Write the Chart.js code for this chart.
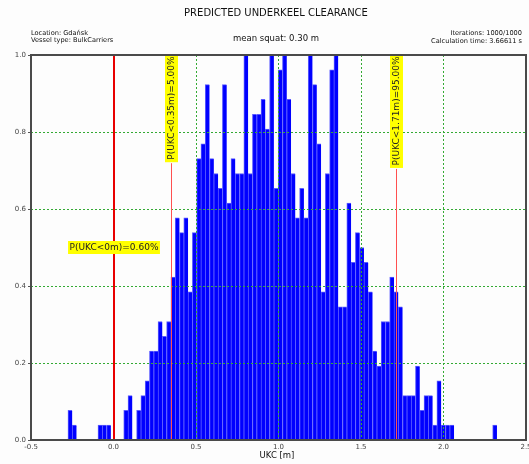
<!DOCTYPE html>
<html>
<head>
<meta charset="utf-8">
<title>Predicted Underkeel Clearance</title>
<script src="https://cdn.jsdelivr.net/npm/chart.js"></script>
<style>
    html, body { margin: 0; padding: 0; background: #fdfdfd; }
    #wrap { width: 529px; height: 464px; }
</style>
</head>
<body>
<div id="wrap"><canvas id="ukcChart" width="529" height="464"></canvas></div>
<script>
// histogram bin centres [m] (bin width 0.026 m)
const binCenters = [
    -0.263, -0.237, -0.211, -0.185, -0.159, -0.133, -0.107, -0.081, -0.055, -0.029,
    -0.003, 0.023, 0.049, 0.075, 0.101, 0.127, 0.153, 0.179, 0.205, 0.231,
    0.257, 0.283, 0.309, 0.335, 0.361, 0.387, 0.413, 0.439, 0.465, 0.491,
    0.517, 0.543, 0.569, 0.595, 0.621, 0.647, 0.673, 0.699, 0.725, 0.751,
    0.777, 0.803, 0.829, 0.855, 0.881, 0.907, 0.933, 0.959, 0.985, 1.011,
    1.037, 1.063, 1.089, 1.115, 1.141, 1.167, 1.193, 1.219, 1.245, 1.271,
    1.297, 1.323, 1.349, 1.375, 1.401, 1.427, 1.453, 1.479, 1.505, 1.531,
    1.557, 1.583, 1.609, 1.635, 1.661, 1.687, 1.713, 1.739, 1.765, 1.791,
    1.817, 1.843, 1.869, 1.895, 1.921, 1.947, 1.973, 1.999, 2.025, 2.051,
    2.077, 2.103, 2.129, 2.155, 2.181, 2.207, 2.233, 2.259, 2.285, 2.311
];
// samples per bin (out of 1000 iterations)
const binCounts = [
    2, 1, 0, 0, 0, 0, 0, 1, 1, 1,
    0, 0, 0, 2, 3, 0, 2, 3, 4, 6,
    6, 8, 7, 8, 11, 15, 14, 15, 10, 14,
    19, 20, 24, 19, 18, 17, 24, 16, 19, 18,
    18, 26, 18, 22, 22, 23, 21, 26, 17, 25,
    26, 23, 18, 15, 17, 15, 26, 24, 20, 10,
    18, 25, 26, 9, 9, 16, 12, 14, 13, 12,
    10, 6, 5, 8, 8, 11, 10, 9, 3, 3,
    3, 5, 2, 3, 3, 1, 4, 1, 1, 1,
    0, 0, 0, 0, 0, 0, 0, 0, 0, 1
];
const maxCount = 26;

const xTickValues = [-0.5, 0.0, 0.5, 1.0, 1.5, 2.0, 2.5];
const yTickValues = [0.0, 0.2, 0.4, 0.6, 0.8, 1.0];

// probability markers
const markerValues = [0, 0.35, 1.71];
const markerLabels = ['P(UKC<0m)=0.60%', 'P(UKC<0.35m)=5.00%', 'P(UKC<1.71m)=95.00%'];

const FONT = '"DejaVu Sans", Verdana, sans-serif';

const ukcPlugin = {
    id: 'ukcDecorations',
    afterDraw(chart) {
        const ctx = chart.ctx;
        const area = chart.chartArea;
        const xs = chart.scales.x;
        const ys = chart.scales.y;
        ctx.save();

        // marker lines + labels
        markerValues.forEach((v, i) => {
            const px = Math.round(xs.getPixelForValue(v));
            ctx.font = '9px ' + FONT;
            const tw = ctx.measureText(markerLabels[i]).width;
            if (i === 0) {
                ctx.strokeStyle = '#e80000';
                ctx.lineWidth = 2;
                ctx.beginPath();
                ctx.moveTo(px, area.top);
                ctx.lineTo(px, area.bottom);
                ctx.stroke();
                const py = ys.getPixelForValue(0.5);
                ctx.fillStyle = '#ffff00';
                ctx.fillRect(px - tw / 2 - 1.5, py - 6.5, tw + 3, 13);
                ctx.fillStyle = '#222';
                ctx.textAlign = 'center';
                ctx.textBaseline = 'middle';
                ctx.fillText(markerLabels[i], px, py);
            } else {
                const boxLen = tw + 5;
                ctx.strokeStyle = '#ff5050';
                ctx.lineWidth = 1;
                ctx.beginPath();
                ctx.moveTo(px + 0.5, area.top + boxLen);
                ctx.lineTo(px + 0.5, area.bottom);
                ctx.stroke();
                ctx.fillStyle = '#ffff00';
                ctx.fillRect(px - 6, area.top - 1, 13, boxLen);
                ctx.translate(px + 0.5, area.top - 1 + boxLen / 2);
                ctx.rotate(-Math.PI / 2);
                ctx.fillStyle = '#222';
                ctx.textAlign = 'center';
                ctx.textBaseline = 'middle';
                ctx.fillText(markerLabels[i], 0, 0);
                ctx.setTransform(1, 0, 0, 1, 0, 0);
            }
        });

        // plot frame
        ctx.strokeStyle = '#4a4a4a';
        ctx.lineWidth = 2;
        ctx.strokeRect(area.left, area.top, area.right - area.left, area.bottom - area.top);

        // header texts
        ctx.fillStyle = '#111';
        ctx.textBaseline = 'middle';
        ctx.textAlign = 'center';
        ctx.font = '10px ' + FONT;
        ctx.fillText('PREDICTED UNDERKEEL CLEARANCE', 276, 13);
        ctx.font = '8.5px ' + FONT;
        ctx.fillText('mean squat: 0.30 m', 276, 39);
        ctx.fillText('UKC [m]', 277, 456);

        ctx.font = '6.6px ' + FONT;
        ctx.textAlign = 'left';
        ctx.fillText('Location: Gda\u0144sk', 31, 33);
        ctx.fillText('Vessel type: BulkCarriers', 31, 40);
        ctx.textAlign = 'right';
        ctx.fillText('Iterations: 1000/1000', 522, 33);
        ctx.fillText('Calculation time: 3.66611 s', 522, 41);
        ctx.restore();
    }
};

const gridStyle = {
    color: '#33aa33',
    lineWidth: 1,
    offset: false,
    z: 1
};

new Chart(document.getElementById('ukcChart'), {
    type: 'bar',
    data: {
        datasets: [{
            data: binCenters.map((c, i) => ({ x: c, y: binCounts[i] / maxCount })),
            backgroundColor: '#0000ff',
            borderColor: '#5a5aff',
            borderWidth: { top: 1, left: 1, right: 0, bottom: 0 },
            borderSkipped: false,
            barPercentage: 1,
            categoryPercentage: 1
        }]
    },
    options: {
        responsive: false,
        animation: false,
        devicePixelRatio: 1,
        layout: { padding: { top: 55, right: 3, left: 0, bottom: 0 } },
        plugins: {
            legend: { display: false },
            tooltip: { enabled: false }
        },
        scales: {
            x: {
                type: 'linear',
                min: -0.5,
                max: 2.5,
                offset: false,
                afterBuildTicks: s => { s.ticks = xTickValues.map(v => ({ value: v })); },
                afterFit: s => { s.height = 24; s.paddingLeft = 0; s.paddingRight = 0; },
                grid: Object.assign({}, gridStyle, { drawTicks: false }),
                border: { display: false, dash: [2, 2] },
                ticks: {
                    autoSkip: false,
                    maxRotation: 0,
                    padding: 3,
                    color: '#444',
                    font: { family: FONT, size: 7 },
                    callback: v => Number(v).toFixed(1)
                }
            },
            y: {
                min: 0,
                max: 1,
                afterBuildTicks: s => { s.ticks = yTickValues.map(v => ({ value: v })); },
                afterFit: s => { s.width = 31; s.paddingTop = 0; s.paddingBottom = 0; },
                grid: Object.assign({}, gridStyle, {
                    drawTicks: true,
                    tickLength: 3,
                    tickColor: '#555',
                    tickBorderDash: []
                }),
                border: { display: false, dash: [2, 2] },
                ticks: {
                    padding: 2,
                    color: '#444',
                    font: { family: FONT, size: 7 },
                    callback: v => Number(v).toFixed(1)
                }
            }
        }
    },
    plugins: [ukcPlugin]
});
</script>
</body>
</html>
